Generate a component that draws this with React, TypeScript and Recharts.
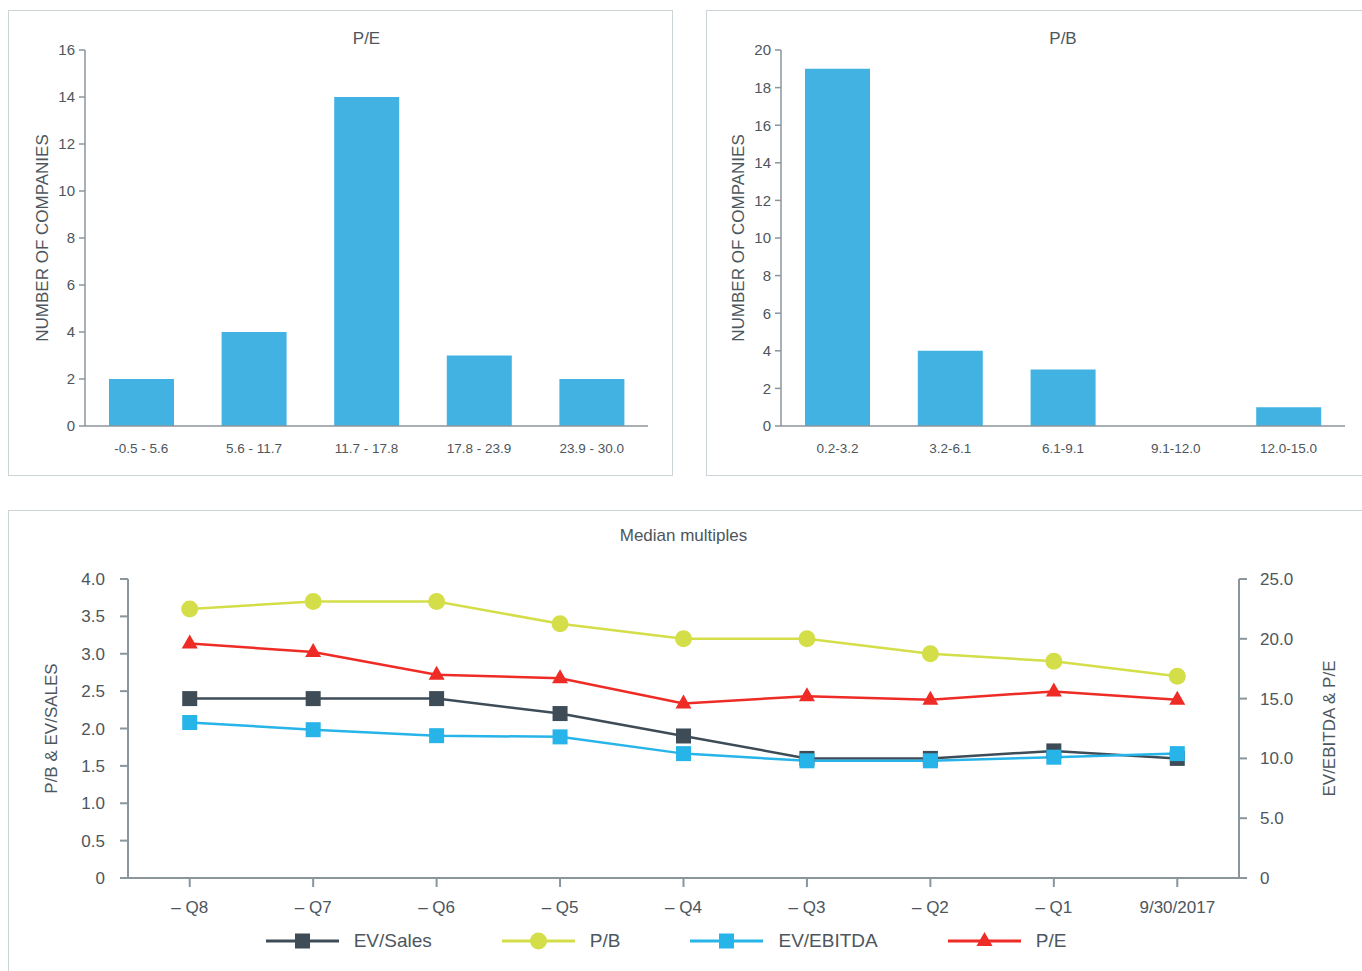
import React from 'react';
import { BarChart, Bar, XAxis, YAxis, LineChart, Line, Legend } from 'recharts';

// ---------- Data ----------
const peRanges = ['-0.5 - 5.6', '5.6 - 11.7', '11.7 - 17.8', '17.8 - 23.9', '23.9 - 30.0'];
const peCounts = [2, 4, 14, 3, 2];
const peTicks = [0, 2, 4, 6, 8, 10, 12, 14, 16];

const pbRanges = ['0.2-3.2', '3.2-6.1', '6.1-9.1', '9.1-12.0', '12.0-15.0'];
const pbCounts = [19, 4, 3, 0, 1];
const pbTicks = [0, 2, 4, 6, 8, 10, 12, 14, 16, 18, 20];

const quarters = ['– Q8', '– Q7', '– Q6', '– Q5', '– Q4', '– Q3', '– Q2', '– Q1', '9/30/2017'];
const evSales = [2.4, 2.4, 2.4, 2.2, 1.9, 1.6, 1.6, 1.7, 1.6];
const pbMedian = [3.6, 3.7, 3.7, 3.4, 3.2, 3.2, 3.0, 2.9, 2.7];
const evEbitda = [13.0, 12.4, 11.9, 11.8, 10.4, 9.8, 9.8, 10.1, 10.4];
const peMedian = [19.6, 18.9, 17.0, 16.7, 14.6, 15.2, 14.9, 15.6, 14.9];
const leftTicks = [0, 0.5, 1.0, 1.5, 2.0, 2.5, 3.0, 3.5, 4.0];
const rightTicks = [0, 5, 10, 15, 20, 25];

// ---------- Styles ----------
const FONT = '"Liberation Sans", Arial, sans-serif';
const TEXT = '#4d565d';
const AXIS = '#8b959c';
const BORDER = '#cdd4d8';
const BAR = '#42b2e3';

const seriesDefs = [
  { key: 'evSales', name: 'EV/Sales', color: '#3e4c57', shape: 'square', axis: 'left' },
  { key: 'pb', name: 'P/B', color: '#d3de48', shape: 'circle', axis: 'left' },
  { key: 'evEbitda', name: 'EV/EBITDA', color: '#27b4e8', shape: 'square', axis: 'right' },
  { key: 'pe', name: 'P/E', color: '#ee2b24', shape: 'triangle', axis: 'right' },
];

const lineData = quarters.map((q, i) => ({
  q,
  idx: i + 0.5,
  evSales: evSales[i],
  pb: pbMedian[i],
  evEbitda: evEbitda[i],
  pe: peMedian[i],
}));

function Marker({ shape, color, cx, cy }: { shape: string; color: string; cx: number; cy: number }) {
  if (shape === 'circle') return <circle cx={cx} cy={cy} r={8.5} fill={color} />;
  if (shape === 'triangle')
    return <polygon points={`${cx},${cy - 9} ${cx + 8},${cy + 5} ${cx - 8},${cy + 5}`} fill={color} />;
  return <rect x={cx - 7.5} y={cy - 7.5} width={15} height={15} fill={color} />;
}

function VLabel(props: any) {
  const { viewBox, text, dx } = props;
  const x = viewBox.x + dx;
  const y = viewBox.y + viewBox.height / 2;
  return (
    <text
      x={x}
      y={y}
      transform={`rotate(-90, ${x}, ${y})`}
      textAnchor="middle"
      dominantBaseline="central"
      fill={TEXT}
      fontSize={17}
      fontFamily={FONT}
    >
      {text}
    </text>
  );
}

function Histogram(props: {
  title: string;
  categories: string[];
  counts: number[];
  ticks: number[];
  boxLeft: number;
  boxWidth: number;
  yAxisWidth: number;
  marginRight: number;
}) {
  const { title, categories, counts, ticks, boxLeft, boxWidth, yAxisWidth, marginRight } = props;
  const data = categories.map((c, i) => ({ range: c, count: counts[i], idx: i + 0.5 }));
  const n = categories.length;
  const edgeTicks = Array.from({ length: n + 1 }, (_, i) => i);
  const plotLeft = yAxisWidth;
  const plotRight = boxWidth - marginRight;
  return (
    <div style={{ position: 'absolute', left: boxLeft, top: 10, width: boxWidth, height: 466 }}>
      <div
        style={{
          position: 'absolute',
          left: 0,
          top: 0,
          width: boxWidth,
          height: 466,
          border: `1.5px solid ${BORDER}`,
          boxSizing: 'border-box',
        }}
      />
      <div
        style={{
          position: 'absolute',
          left: plotLeft,
          width: plotRight - plotLeft,
          top: 19,
          textAlign: 'center',
          fontSize: 17,
          color: TEXT,
          fontFamily: FONT,
        }}
      >
        {title}
      </div>
      <div style={{ position: 'absolute', left: 0, top: 0 }}>
        <BarChart
          width={boxWidth}
          height={466}
          data={data}
          margin={{ top: 40, right: marginRight, bottom: 48, left: 0 }}
        >
          <XAxis
            xAxisId="cat"
            dataKey="range"
            height={1}
            interval={0}
            axisLine={{ stroke: AXIS, strokeWidth: 1.5 }}
            tickLine={false}
            tickSize={0}
            tickMargin={17}
            tick={{ fill: TEXT, fontSize: 13.5, fontFamily: FONT }}
          />
          <XAxis
            xAxisId="edge"
            dataKey="idx"
            type="number"
            domain={[0, n]}
            ticks={edgeTicks}
            allowDataOverflow
            height={1}
            axisLine={false}
            tickLine={{ stroke: AXIS, strokeWidth: 1.5 }}
            tickSize={7}
            tick={false}
          />
          <YAxis
            width={yAxisWidth}
            domain={[0, ticks[ticks.length - 1]]}
            ticks={ticks}
            interval={0}
            axisLine={{ stroke: AXIS, strokeWidth: 1.5 }}
            tickLine={{ stroke: AXIS, strokeWidth: 1.5 }}
            tickSize={6}
            tickMargin={4}
            tick={{ fill: TEXT, fontSize: 15, fontFamily: FONT }}
            label={<VLabel text="NUMBER OF COMPANIES" dx={yAxisWidth - 43} />}
          />
          <Bar xAxisId="cat" dataKey="count" fill={BAR} barSize={65} isAnimationActive={false} />
        </BarChart>
      </div>
    </div>
  );
}

function LegendContent() {
  return (
    <div
      style={{
        display: 'flex',
        justifyContent: 'center',
        alignItems: 'center',
        height: 40,
        paddingRight: 38,
        fontFamily: FONT,
        fontSize: 19,
        color: TEXT,
      }}
    >
      {seriesDefs.map((s, i) => (
        <div
          key={s.key}
          style={{ display: 'flex', alignItems: 'center', marginLeft: i === 0 ? 0 : 70 }}
        >
          <svg width={73} height={22} style={{ display: 'block' }}>
            <line x1={0} y1={11} x2={73} y2={11} stroke={s.color} strokeWidth={3} />
            <Marker shape={s.shape} color={s.color} cx={36.5} cy={11} />
          </svg>
          <span style={{ marginLeft: 15 }}>{s.name}</span>
        </div>
      ))}
    </div>
  );
}

function MedianChart() {
  const W = 1354;
  const H = 462;
  const leftW = 120;
  const rightW = 123;
  const halfBand = (W - leftW - rightW) / quarters.length / 2;
  return (
    <div style={{ position: 'absolute', left: 8, top: 510, width: W, height: H }}>
      <div
        style={{
          position: 'absolute',
          left: 0,
          top: 0,
          width: W + 10,
          height: H + 10,
          border: `1.5px solid ${BORDER}`,
          boxSizing: 'border-box',
        }}
      />
      <div
        style={{
          position: 'absolute',
          left: leftW,
          width: W - leftW - rightW,
          top: 16,
          textAlign: 'center',
          fontSize: 17,
          color: TEXT,
          fontFamily: FONT,
        }}
      >
        Median multiples
      </div>
      <div style={{ position: 'absolute', left: 0, top: 0 }}>
        <LineChart width={W} height={H} data={lineData} margin={{ top: 69, right: 0, bottom: 52, left: 0 }}>
          <XAxis
            xAxisId="cat"
            dataKey="q"
            height={1}
            interval={0}
            padding={{ left: halfBand, right: halfBand }}
            axisLine={{ stroke: AXIS, strokeWidth: 2 }}
            tickLine={{ stroke: AXIS, strokeWidth: 2 }}
            tickSize={9}
            tickMargin={14}
            tick={{ fill: TEXT, fontSize: 17, fontFamily: FONT }}
          />
          <XAxis
            xAxisId="edge"
            dataKey="idx"
            type="number"
            domain={[0, quarters.length]}
            ticks={[0, quarters.length]}
            allowDataOverflow
            height={1}
            axisLine={false}
            tickLine={{ stroke: AXIS, strokeWidth: 2 }}
            tickSize={9}
            tick={false}
          />
          <YAxis
            yAxisId="left"
            width={leftW}
            domain={[0, 4]}
            ticks={leftTicks}
            interval={0}
            tickFormatter={(v: number) => (v === 0 ? '0' : v.toFixed(1))}
            axisLine={{ stroke: AXIS, strokeWidth: 2 }}
            tickLine={{ stroke: AXIS, strokeWidth: 2 }}
            tickSize={8}
            tickMargin={15}
            tick={{ fill: TEXT, fontSize: 17, fontFamily: FONT }}
            label={<VLabel text="P/B & EV/SALES" dx={43} />}
          />
          <YAxis
            yAxisId="right"
            orientation="right"
            width={rightW}
            domain={[0, 25]}
            ticks={rightTicks}
            interval={0}
            tickFormatter={(v: number) => (v === 0 ? '0' : v.toFixed(1))}
            axisLine={{ stroke: AXIS, strokeWidth: 2 }}
            tickLine={{ stroke: AXIS, strokeWidth: 2 }}
            tickSize={8}
            tickMargin={13}
            tick={{ fill: TEXT, fontSize: 17, fontFamily: FONT, textAnchor: 'start' }}
            label={<VLabel text="EV/EBITDA & P/E" dx={90} />}
          />
          <Legend verticalAlign="bottom" content={<LegendContent />} wrapperStyle={{ bottom: 11, left: 0, width: W }} />
          {seriesDefs.map((s) => (
            <Line
              key={s.key}
              xAxisId="cat"
              yAxisId={s.axis}
              dataKey={s.key}
              name={s.name}
              stroke={s.color}
              strokeWidth={2.5}
              isAnimationActive={false}
              dot={(p: any) => <Marker key={`${s.key}-${p.index}`} shape={s.shape} color={s.color} cx={p.cx} cy={p.cy} />}
              activeDot={false}
            />
          ))}
        </LineChart>
      </div>
    </div>
  );
}

export default function App() {
  return (
    <div
      style={{
        position: 'absolute',
        left: 0,
        top: 0,
        width: 1362,
        height: 971,
        overflow: 'hidden',
        background: '#ffffff',
        fontFamily: FONT,
      }}
    >
      <Histogram
        title="P/E"
        categories={peRanges}
        counts={peCounts}
        ticks={peTicks}
        boxLeft={8}
        boxWidth={665}
        yAxisWidth={77}
        marginRight={25}
      />
      <Histogram
        title="P/B"
        categories={pbRanges}
        counts={pbCounts}
        ticks={pbTicks}
        boxLeft={706}
        boxWidth={662}
        yAxisWidth={75}
        marginRight={23}
      />
      <MedianChart />
    </div>
  );
}
